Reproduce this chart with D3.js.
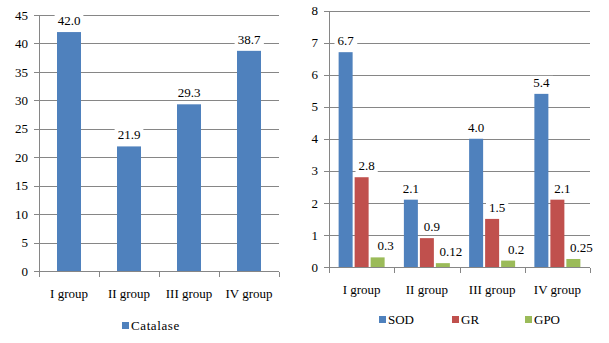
<!DOCTYPE html>
<html>
<head>
<meta charset="utf-8">
<script src="https://cdn.jsdelivr.net/npm/d3@7"></script>
<style>
  body { margin: 0; background: #fff; }
  .axis path, .axis line { stroke: #868686; shape-rendering: crispEdges; }
  .grid line { stroke: #868686; shape-rendering: crispEdges; }
</style>
</head>
<body>
<svg id="chart" width="609" height="343"></svg>
<script>
// data
const groups = ['I group', 'II group', 'III group', 'IV group'];
const catalase = [42.0, 21.9, 29.3, 38.7];
const sod = [6.7, 2.1, 4.0, 5.4];
const gr = [2.8, 0.9, 1.5, 2.1];
const gpo = [0.3, 0.12, 0.2, 0.25];
const leftTicks = [0, 5, 10, 15, 20, 25, 30, 35, 40, 45];
const rightTicks = [0, 1, 2, 3, 4, 5, 6, 7, 8];

const FONT = "'Liberation Serif', 'Times New Roman', serif";

const svg = d3.select('#chart');

function drawPanel(opt) {
	const g = svg.append('g');

	const x = d3.scaleBand().domain(groups).range([opt.x0, opt.x1]);
	const y = d3.scaleLinear().domain([0, opt.ymax]).range([opt.y0, opt.y1]);

	// gridlines
	g.append('g').attr('class', 'grid')
		.selectAll('line')
		.data(opt.ticks.filter(d => d > 0))
		.enter().append('line')
		.attr('x1', opt.x0).attr('x2', opt.x1)
		.attr('y1', d => Math.round(y(d)) + 0.5)
		.attr('y2', d => Math.round(y(d)) + 0.5);

	// y axis
	const axisY = d3.axisLeft(y).tickValues(opt.ticks).tickSize(5).tickPadding(6)
		.tickFormat(d3.format('d'));
	g.append('g').attr('class', 'axis axis-y')
		.attr('transform', `translate(${opt.x0},0)`)
		.call(axisY)
		.call(s => s.select('.domain').attr('d', `M0.5,${opt.y1}V${opt.y0}`));

	// x axis with ticks at category boundaries
	g.append('g').attr('class', 'axis axis-x')
		.attr('transform', `translate(0,${Math.round(opt.y0) + 0.5})`)
		.call(d3.axisBottom(x).tickSize(0).tickPadding(17))
		.call(s => s.select('.domain').attr('d', `M${opt.x0},0H${opt.x1}`))
		.call(s => s.selectAll('.bnd').data(d3.range(groups.length + 1)).enter()
			.append('line').attr('class', 'bnd')
			.attr('x1', i => Math.round(opt.x0 + i * x.step()) + 0.5)
			.attr('x2', i => Math.round(opt.x0 + i * x.step()) + 0.5)
			.attr('y1', 0).attr('y2', 5));

	g.selectAll('.axis').attr('font-family', FONT).attr('font-size', 13);
	g.selectAll('.axis text').style('font-family', FONT).style('font-size', '13px').attr('fill', '#000');

	// bars
	const n = opt.series.length;
	const groupW = n * opt.barW + (n - 1) * opt.gap;
	opt.series.forEach((s, si) => {
		const bx = d => x(groups[d]) + (x.bandwidth() - groupW) / 2 + si * (opt.barW + opt.gap);
		g.selectAll('.bar-' + si)
			.data(d3.range(groups.length))
			.enter().append('rect')
			.attr('class', 'bar-' + si)
			.attr('x', bx)
			.attr('y', d => y(s.values[d]))
			.attr('width', opt.barW)
			.attr('height', d => y(0) - y(s.values[d]))
			.attr('fill', s.color);

		const lbl = g.selectAll('.lbl-' + si)
			.data(d3.range(groups.length))
			.enter().append('g')
			.attr('class', 'lbl-' + si)
			.attr('transform', d => `translate(${bx(d) + opt.barW / 2 + s.dx},${y(s.values[d]) - 7})`);
		lbl.append('text')
			.attr('text-anchor', 'middle')
			.style('font-family', FONT)
			.style('font-size', '13px')
			.text(d => s.fmt(s.values[d]));
		lbl.each(function() {
			const t = d3.select(this).select('text');
			const b = t.node().getBBox();
			d3.select(this).insert('rect', 'text')
				.attr('x', b.x - 3).attr('y', b.y + 1)
				.attr('width', b.width + 6).attr('height', b.height - 2)
				.attr('fill', '#fff');
		});
	});

	// legend
	const leg = g.append('g').attr('transform', `translate(0,${opt.legY})`);
	opt.series.forEach((s, si) => {
		const lx = opt.legX + si * opt.legStep;
		leg.append('rect').attr('x', lx).attr('y', -3).attr('width', 7).attr('height', 7)
			.attr('fill', s.color);
		leg.append('text').attr('x', lx + 9).attr('y', 5)
			.style('font-family', FONT)
			.style('font-size', '13px')
			.attr('letter-spacing', s.ls || 0)
			.text(s.name);
	});
}

const f1 = d3.format('.1f');

drawPanel({
	x0: 39, x1: 279, y0: 271, y1: 15, ymax: 45, ticks: leftTicks,
	barW: 24, gap: 0,
	series: [{name: 'Catalase', values: catalase, color: '#4F81BD', fmt: f1, dx: 0, ls: 0.6}],
	legX: 122, legY: 325, legStep: 0
});

drawPanel({
	x0: 329, x1: 590, y0: 267, y1: 10.5, ymax: 8, ticks: rightTicks,
	barW: 14, gap: 2,
	series: [
		{name: 'SOD', values: sod, color: '#4F81BD', fmt: f1, dx: 0},
		{name: 'GR', values: gr, color: '#C0504D', fmt: f1, dx: 5},
		{name: 'GPO', values: gpo, color: '#9BBB59', fmt: d => String(d), dx: 8}
	],
	legX: 379, legY: 319, legStep: 73
});
</script>
</body>
</html>
